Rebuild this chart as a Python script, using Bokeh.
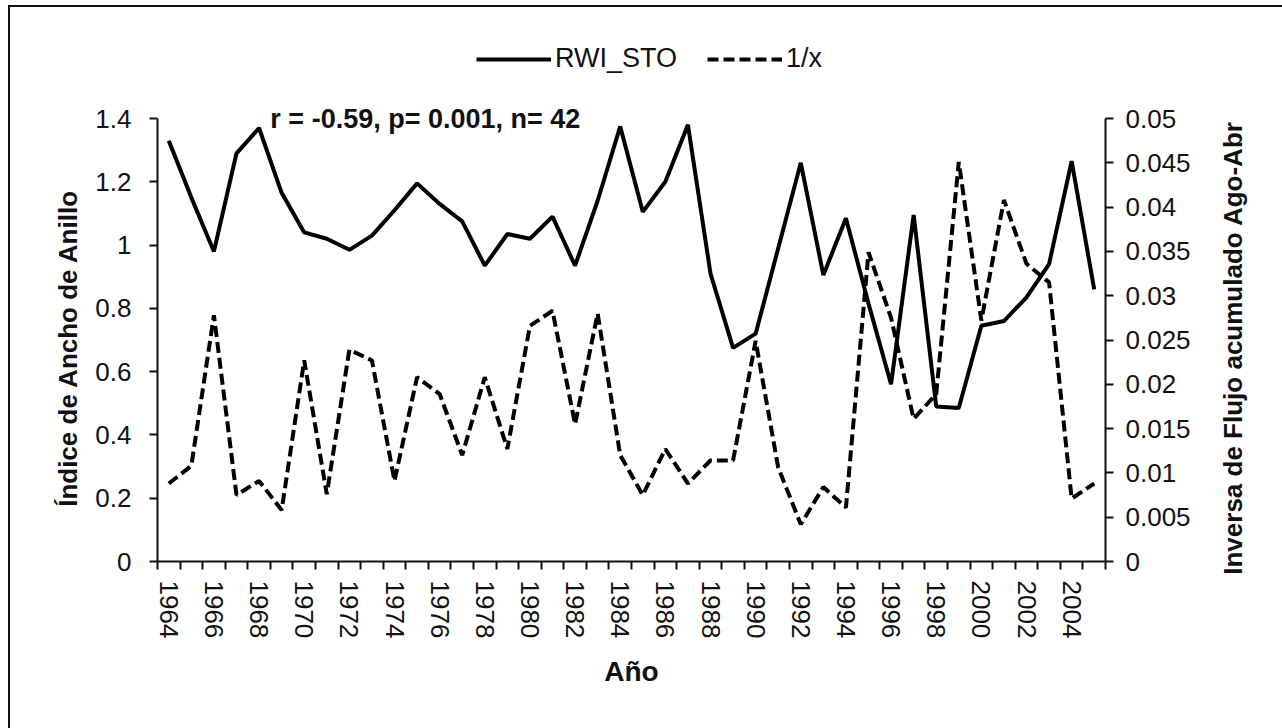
from bokeh.plotting import figure
from bokeh.layouts import row
from bokeh.models import Range1d, LinearAxis, FixedTicker, Label, Legend, LegendItem, PrintfTickFormatter
from bokeh.embed import file_html
from bokeh.resources import INLINE

years = list(range(1964, 2006))
rwi_sto = [1.33, 1.15, 0.98, 1.29, 1.37, 1.165, 1.04, 1.02, 0.985, 1.03,
           1.11, 1.195, 1.13, 1.075, 0.935, 1.035, 1.02, 1.09, 0.935, 1.14,
           1.375, 1.105, 1.20, 1.38, 0.91, 0.675, 0.72, 0.99, 1.26, 0.905,
           1.085, 0.815, 0.56, 1.095, 0.49, 0.485, 0.745, 0.76, 0.835, 0.94,
           1.265, 0.86]
inv_x = [0.0088, 0.0108, 0.0278, 0.0075, 0.0091, 0.0058, 0.0227, 0.0076, 0.0239, 0.0227,
         0.0091, 0.0208, 0.0189, 0.0120, 0.0208, 0.0127, 0.0266, 0.0283, 0.0155, 0.0280,
         0.0120, 0.0075, 0.0127, 0.0088, 0.0114, 0.0114, 0.0249, 0.0106, 0.0042, 0.0084,
         0.0061, 0.0349, 0.0275, 0.0161, 0.0189, 0.0451, 0.0272, 0.0408, 0.0336, 0.0315,
         0.0071, 0.0088]
left_ticks = [0, 0.2, 0.4, 0.6, 0.8, 1.0, 1.2, 1.4]
right_ticks = [0, 0.005, 0.01, 0.015, 0.02, 0.025, 0.03, 0.035, 0.04, 0.045, 0.05]
label_years = list(range(1964, 2005, 2))

FONT = "Liberation Sans"
INK = "#111111"

# axes span 0..1.4 (left) and 0..0.05 (right) over 443 px; the frame extends
# higher so that the legend and the note above the axes are not clipped
LEFT_MAX = 1.4
RIGHT_MAX = 0.05
STRETCH = 521 / 443
# non-breaking spaces keep the axis titles centred on the drawn axes
PAD = "\u00a0" * 13
BORDERS = dict(min_border_top=33, min_border_bottom=167)

p = figure(width=1195, height=721, output_backend="svg", toolbar_location=None,
           x_range=Range1d(1963.5, 2005.5), y_range=Range1d(0, LEFT_MAX * STRETCH),
           min_border_left=147, min_border_right=100, **BORDERS)
p.outline_line_color = None
p.xgrid.visible = False
p.ygrid.visible = False
p.background_fill_color = "white"
p.border_fill_color = "white"
p.extra_y_ranges = {"r": Range1d(0, RIGHT_MAX * STRETCH)}

TICK_FS = "26px"

# x axis
xa = p.xaxis[0]
xa.ticker = FixedTicker(ticks=label_years, minor_ticks=[y - 0.5 for y in years] + [years[-1] + 0.5])
xa.major_tick_out = 0
xa.major_tick_in = 0
xa.minor_tick_out = 8
xa.minor_tick_in = 0
xa.minor_tick_line_color = INK
xa.minor_tick_line_width = 2
xa.axis_line_color = INK
xa.axis_line_width = 2
xa.major_label_orientation = "vertical"
xa.major_label_standoff = 11
xa.major_label_text_font = FONT
xa.major_label_text_font_size = TICK_FS
xa.major_label_text_color = INK
xa.axis_label = "Año"
xa.axis_label_text_font = FONT
xa.axis_label_text_font_size = "28px"
xa.axis_label_text_font_style = "bold"
xa.axis_label_text_color = INK
xa.axis_label_standoff = 15

# left axis
ya = p.yaxis[0]
ya.ticker = FixedTicker(ticks=left_ticks)
ya.formatter = PrintfTickFormatter(format="%g")
ya.bounds = (0, LEFT_MAX)
ya.major_tick_out = 8
ya.major_tick_in = 0
ya.minor_tick_out = 0
ya.minor_tick_in = 0
ya.major_tick_line_width = 2
ya.major_tick_line_color = INK
ya.axis_line_color = INK
ya.axis_line_width = 2
ya.major_label_standoff = 18
ya.major_label_text_font = FONT
ya.major_label_text_font_size = TICK_FS
ya.major_label_text_color = INK
ya.axis_label = "Índice de Ancho de Anillo" + PAD
ya.axis_label_text_font = FONT
ya.axis_label_text_font_size = "26px"
ya.axis_label_text_font_style = "bold"
ya.axis_label_text_color = INK
ya.axis_label_standoff = 9

# right axis (ticks and numbers)
ra = LinearAxis(y_range_name="r", ticker=FixedTicker(ticks=right_ticks),
                formatter=PrintfTickFormatter(format="%g"), bounds=(0, RIGHT_MAX))
ra.major_tick_out = 8
ra.major_tick_in = 0
ra.minor_tick_out = 0
ra.minor_tick_in = 0
ra.major_tick_line_width = 2
ra.major_tick_line_color = INK
ra.axis_line_color = INK
ra.axis_line_width = 2
ra.major_label_standoff = 12
ra.major_label_text_font = FONT
ra.major_label_text_font_size = TICK_FS
ra.major_label_text_color = INK
p.add_layout(ra, "right")

r1 = p.line(years, rwi_sto, line_color="black", line_width=4)
r2 = p.line(years, inv_x, y_range_name="r", line_color="black", line_width=4, line_dash="11 5")

legend = Legend(items=[LegendItem(label="RWI_STO", renderers=[r1]),
                       LegendItem(label="1/x", renderers=[r2])],
                location=(319, 487), orientation="horizontal",
                glyph_width=75, glyph_height=24, label_standoff=4, spacing=30,
                padding=0, margin=0, border_line_color=None, background_fill_alpha=0,
                label_text_font=FONT, label_text_font_size="27px", label_text_color=INK)
p.add_layout(legend, "center")

ann = Label(x=1968.5, y=1.40, text="r = -0.59, p= 0.001, n= 42",
            text_font=FONT, text_font_style="bold", text_font_size="27px",
            text_baseline="middle", text_align="left", text_color=INK)
p.add_layout(ann)

# narrow companion panel carrying the right-hand axis title (reads bottom to top)
q = figure(width=77, height=721, output_backend="svg", toolbar_location=None,
           x_range=Range1d(0, 1), y_range=Range1d(0, 1), x_axis_type=None,
           min_border_left=42, min_border_right=0, **BORDERS)
q.outline_line_color = None
q.xgrid.visible = False
q.ygrid.visible = False
q.background_fill_color = "white"
q.border_fill_color = "white"
qa = q.yaxis[0]
qa.ticker = FixedTicker(ticks=[])
qa.axis_line_color = None
qa.major_tick_out = 0
qa.major_tick_in = 0
qa.minor_tick_out = 0
qa.minor_tick_in = 0
qa.major_label_standoff = 0
qa.axis_label = "Inversa de Flujo acumulado Ago-Abr" + PAD
qa.axis_label_text_font = FONT
qa.axis_label_text_font_size = "26px"
qa.axis_label_text_font_style = "bold"
qa.axis_label_text_color = INK
qa.axis_label_standoff = 0

layout = row(p, q)
layout.styles = {"margin-left": "8px", "margin-top": "5px",
                 "border-top": "2px solid #111", "border-left": "2px solid #111"}

open("out.html", "w").write(file_html(layout, INLINE))
